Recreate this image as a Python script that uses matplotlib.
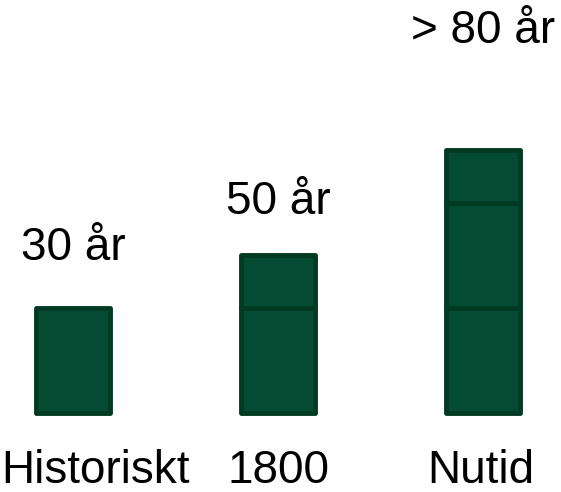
import matplotlib.pyplot as plt

# data
categories = ['Historiskt', '1800', 'Nutid']
segments = [[1.0], [1.0, 0.5], [1.0, 1.0, 0.5]]
value_labels = ['30 år', '50 år', '> 80 år']

fill = '#054a32'
edge = '#003a22'

plt.rcParams['font.family'] = ['Liberation Sans', 'DejaVu Sans']

fig = plt.figure(figsize=(5.61, 4.92), dpi=100)
ax = fig.add_axes([0, 0, 1, 1])

for i, segs in enumerate(segments):
    bottom = 0.0
    for h in segs:
        ax.bar(i, h, bottom=bottom, width=0.36, color=fill, edgecolor=edge,
               linewidth=3.5, joinstyle='round')
        bottom += h

# value labels above the stacks
label_gap = [0.57, 0.51, 1.13]
for i, (segs, txt) in enumerate(zip(segments, value_labels)):
    ax.text(i, sum(segs) + label_gap[i], txt, ha='center', va='center',
            fontsize=33, color='black')

# category labels under the stacks
cat_dx = [0.11, 0.0, -0.01]
for i, cat in enumerate(categories):
    ax.text(i + cat_dx[i], -0.55, cat, ha='center', va='center',
            fontsize=33, color='black')

ax.set_xlim(-0.356, 2.380)
ax.set_ylim(-0.751, 3.929)
ax.axis('off')

fig.savefig('out.png', dpi=100)
